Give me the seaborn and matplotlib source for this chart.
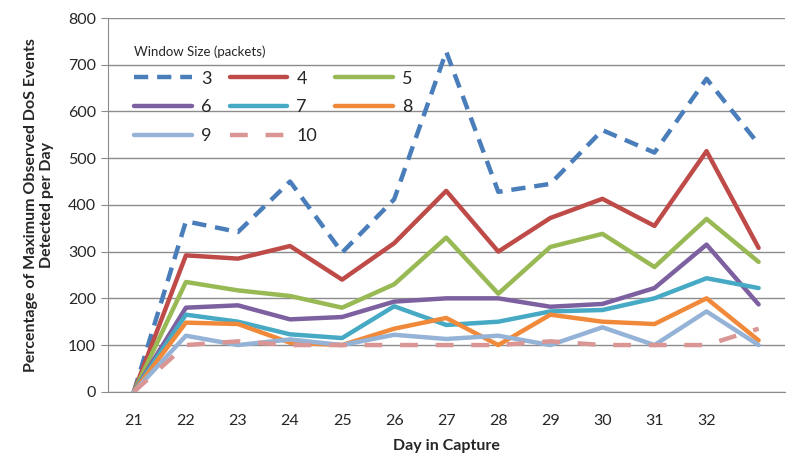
import numpy as np
import pandas as pd
import seaborn as sns
import matplotlib.pyplot as plt
from matplotlib.ticker import MultipleLocator, FixedLocator

days = list(range(21, 34))
day_labels = [str(d) for d in range(21, 33)]
window_sizes = ['3', '4', '5', '6', '7', '8', '9', '10']

w3 = [0, 365, 342, 450, 298, 412, 728, 428, 445, 560, 512, 670, 530]
w4 = [0, 292, 285, 312, 240, 318, 430, 300, 372, 413, 355, 515, 308]
w5 = [0, 235, 217, 205, 180, 230, 330, 210, 310, 338, 267, 370, 278]
w6 = [0, 180, 185, 155, 160, 193, 200, 200, 182, 188, 222, 315, 187]
w7 = [0, 165, 150, 123, 115, 183, 143, 150, 172, 175, 200, 243, 222]
w8 = [0, 148, 145, 105, 100, 135, 158, 100, 165, 150, 145, 200, 110]
w9 = [0, 120, 100, 112, 100, 122, 113, 120, 100, 138, 100, 172, 100]
w10 = [0, 100, 108, 100, 100, 100, 100, 100, 108, 100, 100, 100, 135]

colors = ['#4A7EBB', '#BE4B48', '#98B954', '#7D60A0',
          '#46AAC5', '#F08A3A', '#95B3D7', '#D99694']

series = [w3, w4, w5, w6, w7, w8, w9, w10]
df = pd.DataFrame({
    'day': days * len(series),
    'value': sum(series, []),
    'size': [w for w in window_sizes for _ in days],
})

sns.set_style('white')
plt.rcParams['font.family'] = ['Lato', 'DejaVu Sans']

fig, ax = plt.subplots(figsize=(7.87, 4.62), dpi=100)
fig.subplots_adjust(left=0.137, right=0.997, top=0.961, bottom=0.152)

for w, c in zip(window_sizes, colors):
    sub = df[df['size'] == w]
    sns.lineplot(data=sub, x='day', y='value', color=c, lw=3.2, ax=ax,
                 label=w, legend=False)
lines = ax.get_lines()[:8]
lines[0].set_dashes((3.2, 2))   # window 3
lines[7].set_dashes((4, 4))     # window 10

ax.set_xlim(20.5, 33.5)
ax.set_ylim(0, 800)
ax.yaxis.set_major_locator(MultipleLocator(100))
ax.grid(axis='y', color='#8c8c8c', lw=1)
ax.set_xticks(range(21, 33))
ax.set_xticklabels(day_labels, fontsize=11.5)
ax.xaxis.set_minor_locator(FixedLocator(np.arange(20.5, 34, 1)))
ax.tick_params(axis='x', which='major', length=0, pad=16)
ax.tick_params(axis='x', which='minor', length=5, color='#8c8c8c', direction='out')
ax.tick_params(axis='y', length=5, color='#8c8c8c', direction='out', labelsize=11.5)
ax.tick_params(axis='both', bottom=True, left=True)
for s in ['top', 'right']:
    ax.spines[s].set_visible(False)
for s in ['left', 'bottom']:
    ax.spines[s].set_color('#8c8c8c')
ax.set_axisbelow(True)

ax.set_xlabel('Day in Capture', fontsize=11.5, fontweight='bold', labelpad=8)
ax.set_ylabel('Percentage of Maximum Observed DoS Events\nDetected per Day',
              fontsize=11.5, fontweight='bold', labelpad=10)

# matplotlib fills legend columns first; reorder so it reads row-wise
order = [0, 3, 6, 1, 4, 7, 2, 5]
leg = ax.legend([lines[i] for i in order], [window_sizes[i] for i in order],
                title='Window Size (packets)', ncol=3,
                loc='upper left', bbox_to_anchor=(0.015, 0.97), frameon=False,
                fontsize=13, title_fontsize=9.5, handlelength=3.2,
                columnspacing=1.0, handletextpad=0.5, labelspacing=0.7)
leg._legend_box.align = 'left'

fig.savefig('out.png', dpi=100)
